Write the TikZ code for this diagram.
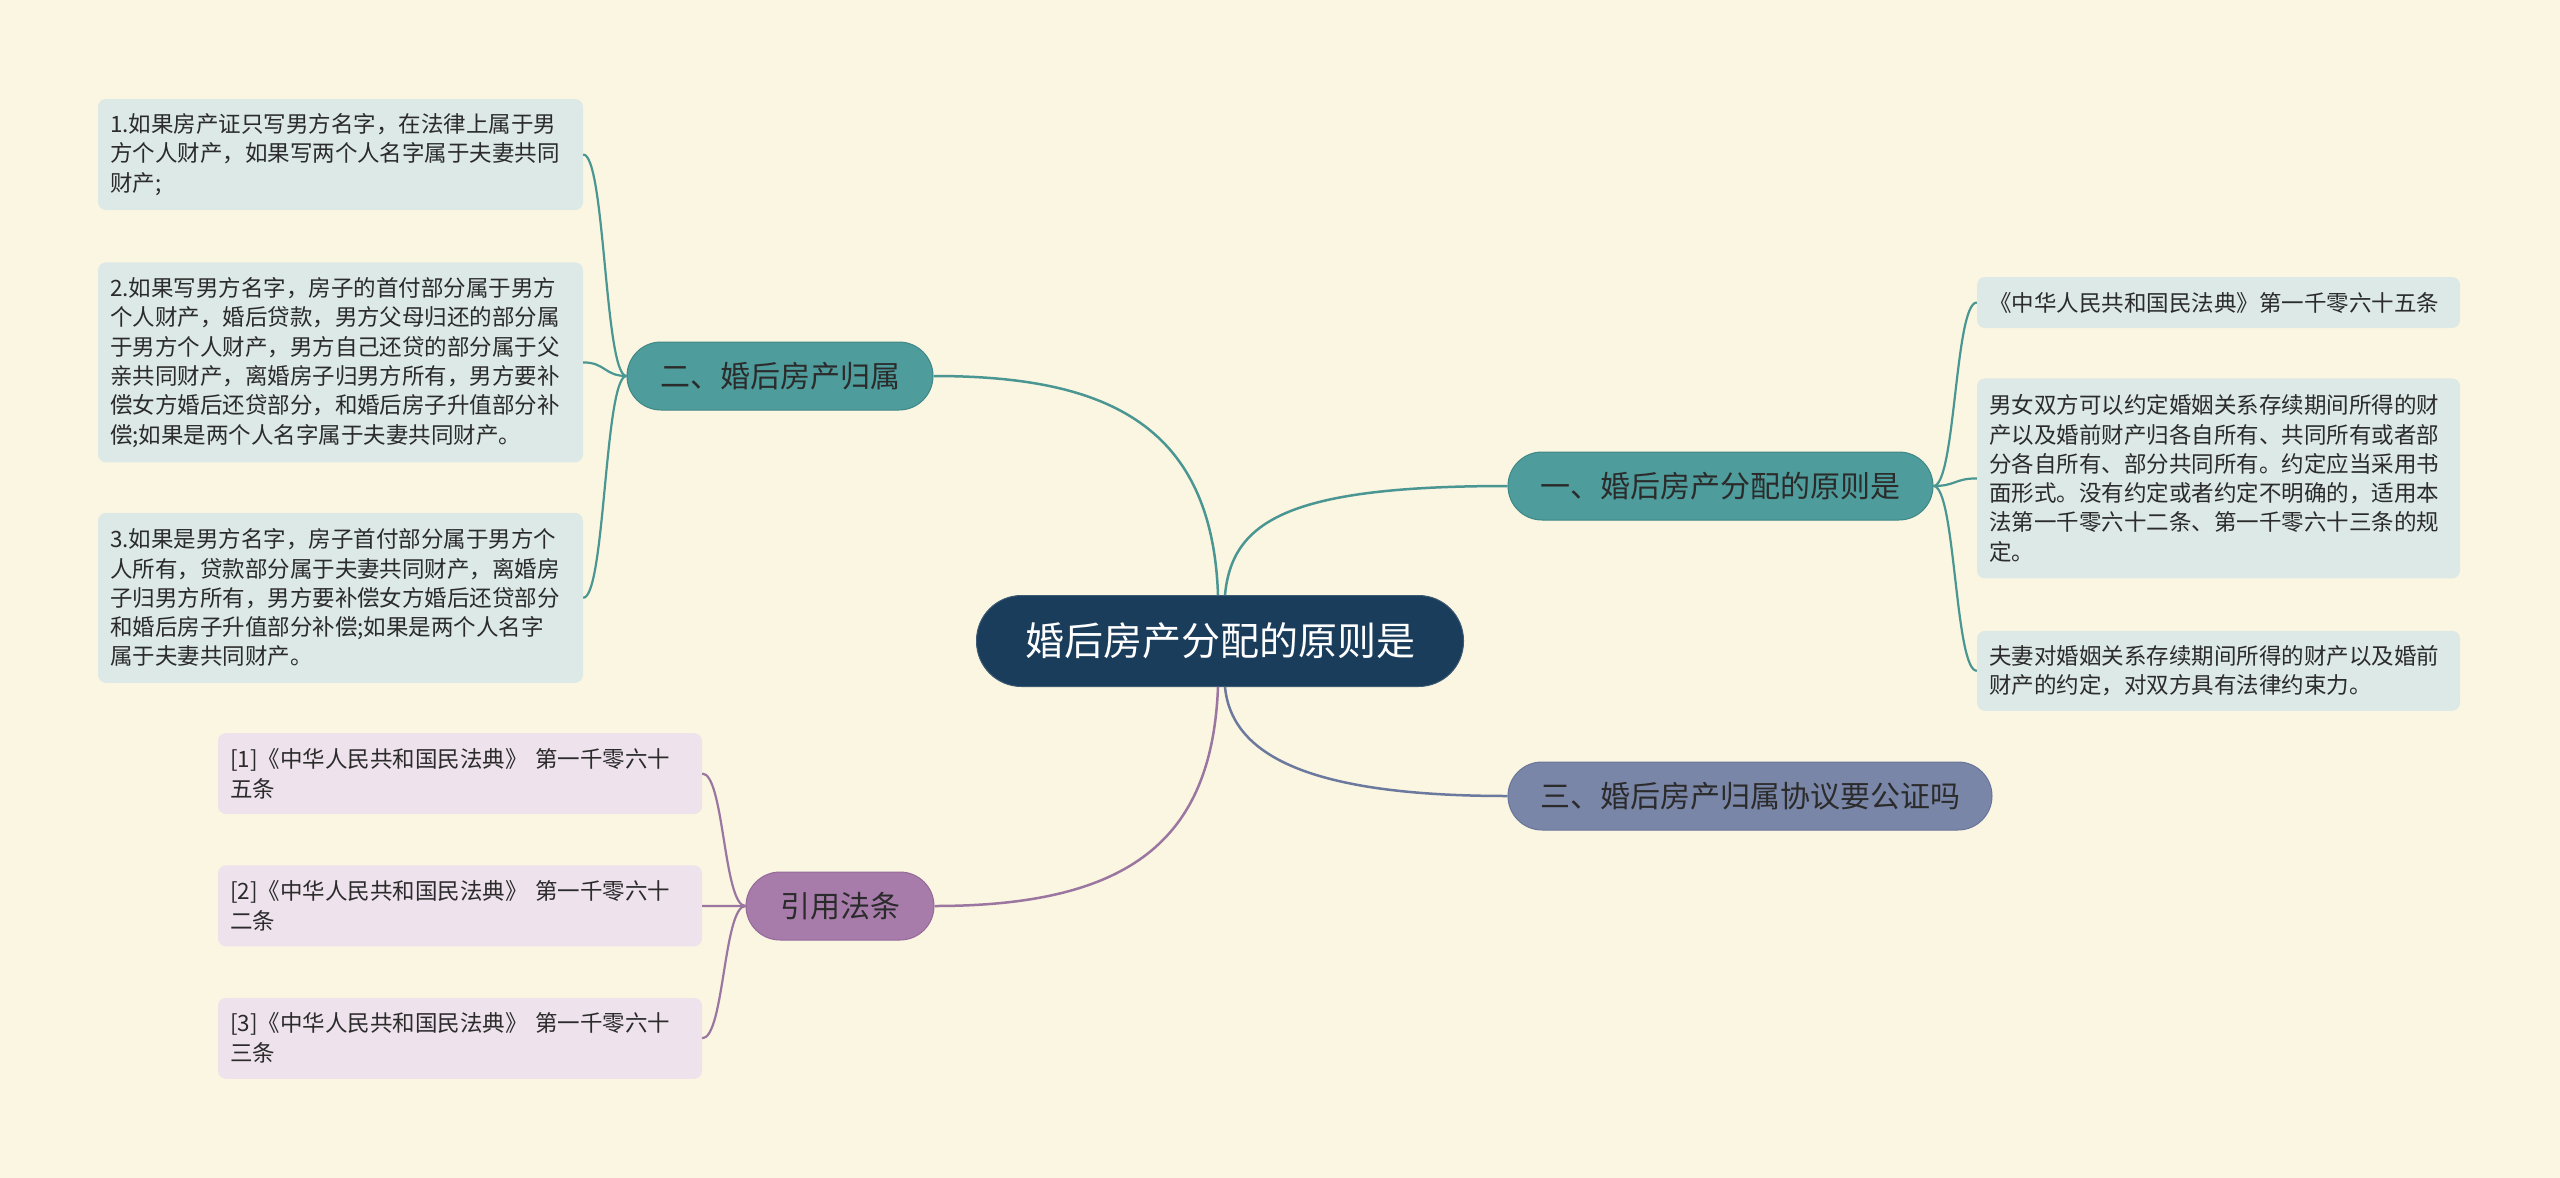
\documentclass[tikz,border=0pt]{standalone}
\usepackage{fontspec}
\setmainfont{Noto Sans CJK SC}
\usepackage{tikz}
\usetikzlibrary{positioning}
\definecolor{PageBg}{HTML}{FBF6E1}
\definecolor{CoreFill}{HTML}{1A3D5C}
\definecolor{TealFill}{HTML}{4E9C9C}
\definecolor{TealEdge}{HTML}{3F8787}
\definecolor{TealLine}{HTML}{4A9692}
\definecolor{TealPale}{HTML}{DCE9E6}
\definecolor{SlateFill}{HTML}{7A86A8}
\definecolor{SlateEdge}{HTML}{68749A}
\definecolor{SlateLine}{HTML}{6C799E}
\definecolor{PlumFill}{HTML}{A77CAB}
\definecolor{PlumEdge}{HTML}{946A99}
\definecolor{PlumLine}{HTML}{9A76A1}
\definecolor{PlumPale}{HTML}{EEE2EC}
\definecolor{InkDark}{HTML}{2B2B2B}

\begin{document}
\begin{tikzpicture}[x=1pt,y=-1pt]
  \tikzstyle{core}=[fill=CoreFill,draw=CoreFill!85!white,line width=1pt,
    rounded corners=45pt,minimum width=487pt,minimum height=91pt,
    text=white,font=\fontsize{39}{44}\selectfont]
  \tikzstyle{topic}=[rounded corners=34pt,minimum height=68pt,line width=1pt,
    text=InkDark,font=\fontsize{30}{34}\selectfont]
  \tikzstyle{leaf}=[rounded corners=8pt,inner xsep=12pt,inner ysep=4pt,
    align=left,text=InkDark,font=\fontsize{22.5}{29.3}\selectfont]
  \tikzstyle{link}=[line width=2.5pt]
  \tikzstyle{twig}=[line width=2.2pt]
  \fill[PageBg] (0,0) rectangle (2560,1178);
  % centre and main topics
  \node[core] (hub) at (1220,641) {婚后房产分配的原则是};
  \node[topic,fill=TealFill,draw=TealEdge,minimum width=425pt] (rule) at (1720.5,486) {一、婚后房产分配的原则是};
  \node[topic,fill=TealFill,draw=TealEdge,minimum width=306pt] (own) at (780,376) {二、婚后房产归属};
  \node[topic,fill=SlateFill,draw=SlateEdge,minimum width=484pt] (note) at (1750,796) {三、婚后房产归属协议要公证吗};
  \node[topic,fill=PlumFill,draw=PlumEdge,minimum width=188pt] (law) at (840,906) {引用法条};
  % left leaves
  \node[leaf,fill=TealPale,text width=461pt,minimum height=111pt] (own1) at (340.5,154.5)
    {1.如果房产证只写男方名字，在法律上属于男\\方个人财产，如果写两个人名字属于夫妻共同\\财产;};
  \node[leaf,fill=TealPale,text width=461pt,minimum height=200pt,below=52pt of own1] (own2)
    {2.如果写男方名字，房子的首付部分属于男方\\个人财产，婚后贷款，男方父母归还的部分属\\于男方个人财产，男方自己还贷的部分属于父\\亲共同财产，离婚房子归男方所有，男方要补\\偿女方婚后还贷部分，和婚后房子升值部分补\\偿;如果是两个人名字属于夫妻共同财产。};
  \node[leaf,fill=TealPale,text width=461pt,minimum height=170pt,below=50pt of own2] (own3)
    {3.如果是男方名字，房子首付部分属于男方个\\人所有，贷款部分属于夫妻共同财产，离婚房\\子归男方所有，男方要补偿女方婚后还贷部分\\和婚后房子升值部分补偿;如果是两个人名字\\属于夫妻共同财产。};
  % right leaves
  \node[leaf,fill=TealPale,text width=459pt,minimum height=51pt] (rule1) at (2218.5,302.5)
    {《中华人民共和国民法典》第一千零六十五条};
  \node[leaf,fill=TealPale,text width=459pt,minimum height=200pt,below=50pt of rule1] (rule2)
    {男女双方可以约定婚姻关系存续期间所得的财\\产以及婚前财产归各自所有、共同所有或者部\\分各自所有、部分共同所有。约定应当采用书\\面形式。没有约定或者约定不明确的，适用本\\法第一千零六十二条、第一千零六十三条的规\\定。};
  \node[leaf,fill=TealPale,text width=459pt,minimum height=80pt,below=52pt of rule2] (rule3)
    {夫妻对婚姻关系存续期间所得的财产以及婚前\\财产的约定，对双方具有法律约束力。};
  % cited articles
  \node[leaf,fill=PlumPale,text width=460pt,minimum height=81pt,font=\fontsize{22.5}{30}\selectfont] (law1) at (460,773.5)
    {[1]《中华人民共和国民法典》 第一千零六十\\五条};
  \node[leaf,fill=PlumPale,text width=460pt,minimum height=81pt,font=\fontsize{22.5}{30}\selectfont,below=51pt of law1] (law2)
    {[2]《中华人民共和国民法典》 第一千零六十\\二条};
  \node[leaf,fill=PlumPale,text width=460pt,minimum height=81pt,font=\fontsize{22.5}{30}\selectfont,below=51pt of law2] (law3)
    {[3]《中华人民共和国民法典》 第一千零六十\\三条};
  % connectors
  \draw[link,TealLine] ([xshift=5pt]hub.north) .. controls (1232,520) and (1290,486) .. (rule.west);
  \draw[link,TealLine] ([xshift=-2pt]hub.north) .. controls (1212,420) and (1100,376) .. (own.east);
  \draw[link,SlateLine] ([xshift=5pt]hub.south) .. controls (1232,760) and (1320,796) .. (note.west);
  \draw[link,PlumLine] ([xshift=-2pt]hub.south) .. controls (1212,840) and (1130,906) .. (law.east);
  \draw[twig,TealLine] (own.west) .. controls +(-22,0) and +(22,0) .. (own1.east);
  \draw[twig,TealLine] (own.west) .. controls +(-22,0) and +(22,0) .. (own2.east);
  \draw[twig,TealLine] (own.west) .. controls +(-22,0) and +(22,0) .. (own3.east);
  \draw[twig,TealLine] (rule.east) .. controls +(22,0) and +(-22,0) .. (rule1.west);
  \draw[twig,TealLine] (rule.east) .. controls +(22,0) and +(-22,0) .. (rule2.west);
  \draw[twig,TealLine] (rule.east) .. controls +(22,0) and +(-22,0) .. (rule3.west);
  \draw[twig,PlumLine] (law.west) .. controls +(-22,0) and +(22,0) .. (law1.east);
  \draw[twig,PlumLine] (law.west) .. controls +(-22,0) and +(22,0) .. (law2.east);
  \draw[twig,PlumLine] (law.west) .. controls +(-22,0) and +(22,0) .. (law3.east);
\end{tikzpicture}
\end{document}
